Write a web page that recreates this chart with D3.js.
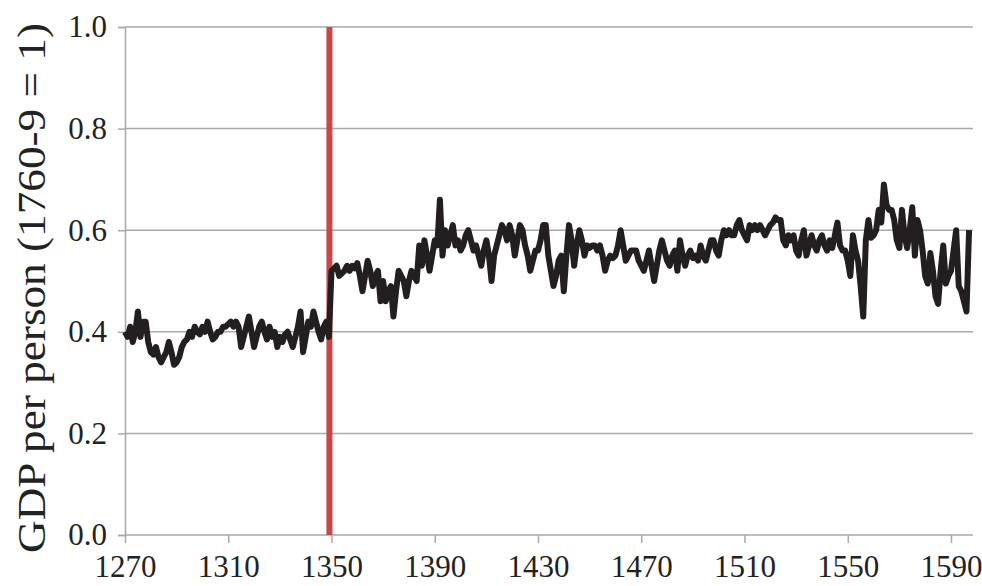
<!DOCTYPE html>
<meta charset="utf-8">
<style>

body {
  margin: 0;
  background: #fff;
}

text {
  font-family: "Liberation Serif", "DejaVu Serif", serif;
  fill: #222;
}

</style>
<body>
    <div id="chart"></div>
</body>

<script src="https://d3js.org/d3.v7.min.js"></script>
<script>

    // annual series, one value per year starting at firstYear
    var firstYear = 1270;
    var gdp = [
        // 1270s
        0.40, 0.39, 0.41, 0.38, 0.40, 0.44, 0.39, 0.42, 0.42, 0.38,
        // 1280s
        0.36, 0.355, 0.37, 0.35, 0.34, 0.35, 0.36, 0.38, 0.36, 0.335,
        // 1290s
        0.34, 0.35, 0.37, 0.38, 0.385, 0.40, 0.39, 0.41, 0.40, 0.395,
        // 1300s
        0.41, 0.40, 0.42, 0.40, 0.385, 0.39, 0.40, 0.40, 0.41, 0.41,
        // 1310s
        0.415, 0.42, 0.41, 0.42, 0.41, 0.37, 0.39, 0.41, 0.43, 0.40,
        // 1320s
        0.37, 0.39, 0.41, 0.42, 0.40, 0.385, 0.41, 0.39, 0.40, 0.37,
        // 1330s
        0.39, 0.38, 0.395, 0.40, 0.385, 0.37, 0.39, 0.41, 0.44, 0.36,
        // 1340s
        0.39, 0.42, 0.41, 0.44, 0.42, 0.40, 0.385, 0.41, 0.42, 0.39,
        // 1350s
        0.52, 0.525, 0.53, 0.51, 0.515, 0.52, 0.53, 0.52, 0.53, 0.525,
        // 1360s
        0.535, 0.51, 0.48, 0.51, 0.54, 0.52, 0.49, 0.51, 0.52, 0.46,
        // 1370s
        0.50, 0.46, 0.48, 0.49, 0.43, 0.48, 0.52, 0.51, 0.50, 0.47,
        // 1380s
        0.50, 0.52, 0.51, 0.50, 0.57, 0.53, 0.58, 0.55, 0.52, 0.55,
        // 1390s
        0.58, 0.57, 0.66, 0.55, 0.60, 0.57, 0.59, 0.61, 0.57, 0.58,
        // 1400s
        0.56, 0.57, 0.59, 0.60, 0.58, 0.56, 0.57, 0.55, 0.53, 0.56,
        // 1410s
        0.58, 0.55, 0.50, 0.55, 0.57, 0.59, 0.61, 0.60, 0.58, 0.61,
        // 1420s
        0.59, 0.55, 0.58, 0.61, 0.60, 0.57, 0.55, 0.52, 0.54, 0.56,
        // 1430s
        0.56, 0.58, 0.61, 0.61, 0.55, 0.52, 0.49, 0.51, 0.54, 0.55,
        // 1440s
        0.48, 0.55, 0.61, 0.58, 0.53, 0.57, 0.60, 0.58, 0.55, 0.57,
        // 1450s
        0.565, 0.57, 0.57, 0.56, 0.57, 0.55, 0.52, 0.54, 0.55, 0.545,
        // 1460s
        0.55, 0.57, 0.60, 0.57, 0.54, 0.55, 0.56, 0.56, 0.56, 0.54,
        // 1470s
        0.53, 0.52, 0.54, 0.56, 0.53, 0.50, 0.53, 0.56, 0.58, 0.56,
        // 1480s
        0.54, 0.53, 0.55, 0.56, 0.52, 0.58, 0.55, 0.53, 0.55, 0.56,
        // 1490s
        0.545, 0.55, 0.54, 0.57, 0.55, 0.54, 0.56, 0.58, 0.58, 0.56,
        // 1500s
        0.55, 0.58, 0.60, 0.59, 0.60, 0.59, 0.59, 0.61, 0.62, 0.60,
        // 1510s
        0.59, 0.58, 0.61, 0.60, 0.61, 0.60, 0.61, 0.60, 0.59, 0.60,
        // 1520s
        0.61, 0.615, 0.625, 0.62, 0.62, 0.58, 0.57, 0.59, 0.58, 0.59,
        // 1530s
        0.56, 0.55, 0.58, 0.60, 0.55, 0.57, 0.59, 0.57, 0.56, 0.58,
        // 1540s
        0.59, 0.57, 0.56, 0.58, 0.565, 0.59, 0.615, 0.57, 0.56, 0.56,
        // 1550s
        0.54, 0.51, 0.59, 0.56, 0.54, 0.49, 0.43, 0.58, 0.62, 0.585,
        // 1560s
        0.59, 0.60, 0.64, 0.615, 0.69, 0.65, 0.64, 0.64, 0.62, 0.58,
        // 1570s
        0.565, 0.64, 0.59, 0.565, 0.60, 0.645, 0.55, 0.62, 0.60, 0.56,
        // 1580s
        0.51, 0.495, 0.555, 0.52, 0.47, 0.455, 0.52, 0.57, 0.495, 0.51,
        // 1590s
        0.52, 0.56, 0.60, 0.49, 0.48, 0.46, 0.44, 0.60
    ];

    var xTicks = [1270, 1310, 1350, 1390, 1430, 1470, 1510, 1550, 1590];
    var yTicks = [0, 0.2, 0.4, 0.6, 0.8, 1.0];
    var markerYear = 1349.2;   // black death
    var yLabel = "GDP per person (1760-9 = 1)";

    var width = 982,
        height = 586,
        plotLeft = 125,
        plotRight = 973,
        plotTop = 27,
        plotBottom = 535;

    var data = gdp.map(function(v, i) { return { year: firstYear + i, value: v }; });

    var x = d3.scaleLinear()
            .domain([1270, 1590])
            .range([plotLeft, 951]);

    var y = d3.scaleLinear()
            .domain([0, 1])
            .range([plotBottom, plotTop]);

    var svg = d3.select("#chart").append("svg")
            .attr("width", width)
            .attr("height", height);

    // horizontal grid
    svg.append("g")
            .selectAll("line")
            .data(yTicks.slice(1))
            .enter().append("line")
            .attr("x1", plotLeft)
            .attr("x2", plotRight)
            .attr("y1", function(d) { return y(d); })
            .attr("y2", function(d) { return y(d); })
            .attr("stroke", "#a9a9a9")
            .attr("stroke-width", 1.5);

    // y axis
    var yAxis = svg.append("g")
            .attr("transform", "translate(" + plotLeft + ",0)")
            .call(d3.axisLeft(y).tickValues(yTicks).tickFormat(d3.format(".1f")).tickSize(7).tickPadding(11));

    // x axis
    var xAxis = svg.append("g")
            .attr("transform", "translate(0," + plotBottom + ")")
            .call(d3.axisBottom(x).tickValues(xTicks).tickFormat(d3.format("d")).tickSize(8).tickPadding(12).tickSizeOuter(0));

    [yAxis, xAxis].forEach(function(ax) {
        ax.select(".domain").attr("stroke", "#a9a9a9").attr("stroke-width", 1.5);
        ax.selectAll(".tick line").attr("stroke", "#a9a9a9").attr("stroke-width", 1.5);
        ax.selectAll(".tick text")
                .style("font-family", "'Liberation Serif', serif")
                .style("font-size", "31px")
                .attr("fill", "#2a2a2a");
    });
    xAxis.select(".domain").attr("d", "M" + plotLeft + ",0H" + plotRight);

    // red marker line
    svg.append("line")
            .attr("x1", x(markerYear))
            .attr("x2", x(markerYear))
            .attr("y1", y(1))
            .attr("y2", y(0))
            .attr("stroke", "#c8484a")
            .attr("stroke-width", 6);

    // series
    var line = d3.line()
            .x(function(d) { return x(d.year); })
            .y(function(d) { return y(d.value); });

    svg.append("path")
            .datum(data)
            .attr("d", line)
            .attr("fill", "none")
            .attr("stroke", "#231f20")
            .attr("stroke-width", 6)
            .attr("stroke-linejoin", "round");

    // y label
    svg.append("text")
            .attr("transform", "translate(45," + ((plotTop + plotBottom) / 2 + 7) + ") rotate(-90)")
            .style("text-anchor", "middle")
            .style("font-size", "40px")
            .attr("fill", "#2a2a2a")
            .attr("textLength", 530)
            .attr("lengthAdjust", "spacingAndGlyphs")
            .text(yLabel);

</script>
